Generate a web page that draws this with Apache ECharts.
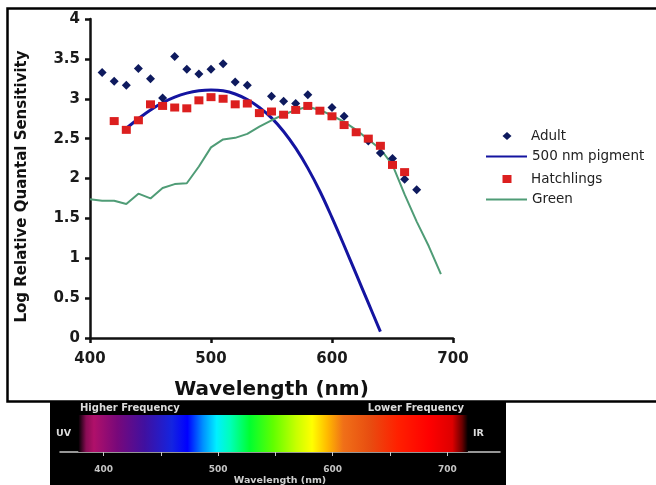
<!DOCTYPE html>
<html>
<head>
<meta charset="utf-8">
<script src="https://cdn.jsdelivr.net/npm/echarts@6.0.0/dist/echarts.min.js"></script>
<style>
html,body{margin:0;padding:0;background:#fff;}
#chart{width:656px;height:485px;}
</style>
</head>
<body>
<div id="chart"></div>
<script>
// ---- data ----
const adultWl  = [410,420,430,440,450,460,470,480,490,500,510,520,530,550,560,570,580,600,610,630,640,650,660,670];
const adultVal = [3.33,3.22,3.17,3.38,3.25,3.01,3.53,3.37,3.31,3.37,3.44,3.21,3.17,3.03,2.97,2.94,3.05,2.89,2.78,2.47,2.32,2.25,1.99,1.86];

const pigWl  = [430,440,450,460,470,480,490,500,510,520,530,540,550,560,570,580,590,600,610,620,630,640];
const pigVal = [2.63,2.75,2.86,2.95,3.02,3.07,3.10,3.11,3.10,3.06,2.99,2.89,2.76,2.59,2.38,2.13,1.84,1.51,1.16,0.80,0.44,0.08];

const hatchWl  = [420,430,440,450,460,470,480,490,500,510,520,530,540,550,560,570,580,590,600,610,620,630,640,650,660];
const hatchVal = [2.72,2.61,2.73,2.93,2.91,2.89,2.88,2.98,3.02,3.00,2.93,2.94,2.82,2.84,2.80,2.86,2.91,2.85,2.78,2.67,2.58,2.50,2.41,2.17,2.08];

const greenWl  = [400,410,420,430,440,450,460,470,480,490,500,510,520,530,540,550,560,570,580,590,600,610,620,630,640,650,660,670,680,690];
const greenVal = [1.74,1.72,1.72,1.68,1.81,1.75,1.88,1.93,1.94,2.15,2.39,2.49,2.51,2.56,2.65,2.73,2.80,2.86,2.90,2.86,2.79,2.71,2.61,2.49,2.37,2.17,1.80,1.46,1.15,0.80];

const seriesNames = ['Adult','500 nm pigment','Hatchlings','Green'];
const yTickStep = 0.5;
const xTickStep = 100;

// spectrum strip (decorative wavelength scale)
const spectrumTicks  = [400,450,500,550,600,650,700];
const spectrumLabels = [400,500,600,700];
const spectrumBand   = [378,718];

const pair = (xs, ys) => xs.map((x, i) => [x, ys[i]]);

const FONT = 'DejaVu Sans';
const chart = echarts.init(document.getElementById('chart'), null, {renderer:'canvas'});

const legendText = {fontSize: 13.5, color: '#222', fontFamily: FONT};

const option = {
  animation: false,
  backgroundColor: '#ffffff',
  textStyle: {fontFamily: FONT},
  grid: [
    {left: 90, right: 203, top: 19, bottom: 147, containLabel: false, outerBoundsMode: 'none'},
    {left: 60, right: 156, top: 415, height: 37, containLabel: false, outerBoundsMode: 'none'}
  ],
  legend: [
    {
      // marker entries (rows 1 and 3)
      data: [seriesNames[0], seriesNames[2]],
      orient: 'vertical', left: 502.5, top: 129, padding: 0,
      itemWidth: 9, itemHeight: 8, itemGap: 29,
      textStyle: Object.assign({padding: [0, 0, 0, 14.5]}, legendText)
    },
    {
      // line entries (rows 2 and 4)
      data: [
        {name: seriesNames[1], itemStyle: {color: 'rgba(0,0,0,0)', opacity: 0, borderWidth: 0}},
        {name: seriesNames[3], itemStyle: {color: 'rgba(0,0,0,0)', opacity: 0, borderWidth: 0}}
      ],
      orient: 'vertical', left: 485, top: 149.5, padding: 0,
      itemWidth: 41, itemHeight: 8, itemGap: 29,
      textStyle: legendText
    }
  ],
  xAxis: [
    {
      type: 'value', gridIndex: 0, min: 400, max: 700, interval: xTickStep,
      axisLine: {show: true, lineStyle: {color: '#111', width: 2.5}},
      axisTick: {show: true, length: 5, lineStyle: {color: '#111', width: 2.5}},
      axisLabel: {fontSize: 15, fontWeight: 'bold', color: '#1a1a1a', margin: 14, fontFamily: FONT, showMinLabel: true, showMaxLabel: true},
      splitLine: {show: false},
      name: 'Wavelength (nm)', nameLocation: 'middle', nameGap: 42,
      nameTextStyle: {fontSize: 20, fontWeight: 'bold', color: '#111', fontFamily: FONT}
    },
    {
      type: 'value', gridIndex: 1, min: 362, max: 746, offset: 7,
      axisLine: {show: true, lineStyle: {color: '#c8c8c8', width: 1.5}},
      axisTick: {show: true, customValues: spectrumTicks, length: 4, inside: false, lineStyle: {color: '#c8c8c8', width: 1}},
      axisLabel: {customValues: spectrumLabels, fontSize: 9, fontWeight: 'bold', color: '#c4c4c4', margin: 6, fontFamily: FONT},
      splitLine: {show: false},
      name: 'Wavelength (nm)', nameLocation: 'middle', nameGap: 17,
      nameTextStyle: {fontSize: 9.5, fontWeight: 'bold', color: '#cfcfcf', fontFamily: FONT}
    }
  ],
  yAxis: [
    {
      type: 'value', gridIndex: 0, min: 0, max: 4, interval: yTickStep,
      axisLine: {show: true, lineStyle: {color: '#111', width: 2.5}},
      axisTick: {show: true, length: 5, lineStyle: {color: '#111', width: 2.5}},
      axisLabel: {fontSize: 15, fontWeight: 'bold', color: '#1a1a1a', margin: 10, fontFamily: FONT, showMinLabel: true, showMaxLabel: true},
      splitLine: {show: false},
      name: 'Log Relative Quantal Sensitivity', nameLocation: 'middle', nameGap: 60,
      nameTextStyle: {fontSize: 15, fontWeight: 'bold', color: '#111', fontFamily: FONT, padding: [0, 16, 0, 0]}
    },
    {type: 'value', gridIndex: 1, min: 0, max: 1, show: false}
  ],
  graphic: [
    {type: 'rect', z: -2, silent: true, shape: {x: 7.5, y: 8.5, width: 720, height: 393}, style: {fill: 'none', stroke: '#000', lineWidth: 2.5}},
    {type: 'rect', z: -1, silent: true, shape: {x: 50, y: 401, width: 456, height: 90}, style: {fill: '#000', stroke: 'none'}},
    {type: 'text', z: 10, silent: true, x: 80, y: 408.5, style: {text: 'Higher Frequency', fill: '#dcdcdc', font: 'bold 10px "DejaVu Sans"', textAlign: 'left', textVerticalAlign: 'middle', align: 'left', verticalAlign: 'middle'}},
    {type: 'text', z: 10, silent: true, x: 464, y: 408.5, style: {text: 'Lower Frequency', fill: '#dcdcdc', font: 'bold 10px "DejaVu Sans"', textAlign: 'right', textVerticalAlign: 'middle', align: 'right', verticalAlign: 'middle'}},
    {type: 'text', z: 10, silent: true, x: 56, y: 434, style: {text: 'UV', fill: '#dcdcdc', font: 'bold 9.5px "DejaVu Sans"', textAlign: 'left', textVerticalAlign: 'middle', align: 'left', verticalAlign: 'middle'}},
    {type: 'text', z: 10, silent: true, x: 473, y: 434, style: {text: 'IR', fill: '#dcdcdc', font: 'bold 9.5px "DejaVu Sans"', textAlign: 'left', textVerticalAlign: 'middle', align: 'left', verticalAlign: 'middle'}}
  ],
  series: [
    {
      name: seriesNames[0], type: 'scatter', xAxisIndex: 0, yAxisIndex: 0,
      data: pair(adultWl, adultVal), symbol: 'diamond', symbolSize: [9, 9],
      itemStyle: {color: '#0e1a5e', opacity: 1}, z: 3
    },
    {
      name: seriesNames[1], type: 'line', xAxisIndex: 0, yAxisIndex: 0,
      data: pair(pigWl, pigVal), smooth: 0.4, symbol: 'none',
      lineStyle: {color: '#1414a0', width: 3}, itemStyle: {color: '#1414a0'}, z: 3
    },
    {
      name: seriesNames[2], type: 'scatter', xAxisIndex: 0, yAxisIndex: 0,
      data: pair(hatchWl, hatchVal), symbol: 'rect', symbolSize: [9, 8],
      itemStyle: {color: '#dc1f1f', opacity: 1}, z: 3
    },
    {
      name: seriesNames[3], type: 'line', xAxisIndex: 0, yAxisIndex: 0,
      data: pair(greenWl, greenVal), smooth: false, symbol: 'none',
      lineStyle: {color: '#4f9c76', width: 2}, itemStyle: {color: '#4f9c76'}, z: 3
    },
    {
      name: 'spectrum', type: 'line', xAxisIndex: 1, yAxisIndex: 1, data: [], silent: true,
      markArea: {
        silent: true,
        itemStyle: {
          opacity: 1,
          color: {
            type: 'linear', x: 0, y: 0, x2: 1, y2: 0,
            colorStops: [
              {offset: 0, color: '#000000'},
              {offset: 0.02, color: '#8a0c55'},
              {offset: 0.04, color: '#b0106a'},
              {offset: 0.10, color: '#78087a'},
              {offset: 0.17, color: '#4010a0'},
              {offset: 0.24, color: '#1424e0'},
              {offset: 0.28, color: '#0000ff'},
              {offset: 0.32, color: '#0090ff'},
              {offset: 0.355, color: '#00f0ff'},
              {offset: 0.39, color: '#00ffb8'},
              {offset: 0.44, color: '#00ff30'},
              {offset: 0.50, color: '#60ff00'},
              {offset: 0.56, color: '#c8ff00'},
              {offset: 0.60, color: '#ffff00'},
              {offset: 0.64, color: '#ffb800'},
              {offset: 0.68, color: '#f07018'},
              {offset: 0.75, color: '#e84c10'},
              {offset: 0.82, color: '#ff2000'},
              {offset: 0.90, color: '#ff0000'},
              {offset: 0.96, color: '#dd0000'},
              {offset: 0.985, color: '#6a0000'},
              {offset: 1, color: '#000000'}
            ]
          }
        },
        data: [[{xAxis: spectrumBand[0]}, {xAxis: spectrumBand[1]}]]
      }
    }
  ]
};
chart.setOption(option);
</script>
</body>
</html>
